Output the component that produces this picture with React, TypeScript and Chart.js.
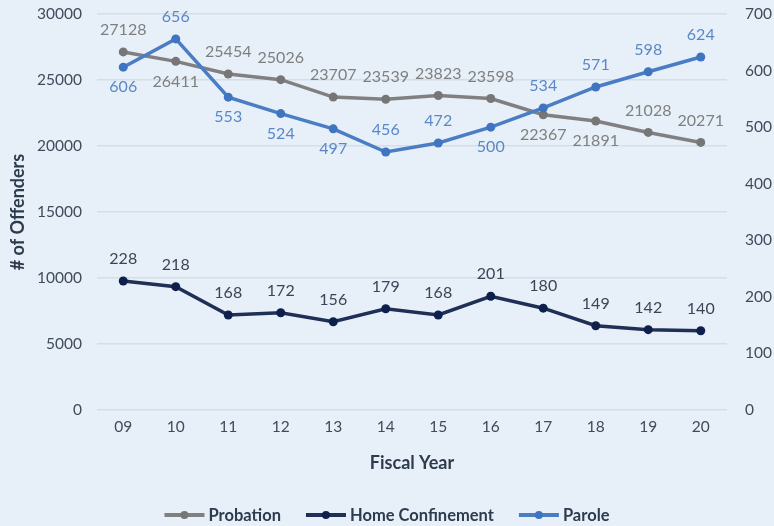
import React, { useEffect, useRef } from "react";
import { Chart, registerables } from "chart.js";

Chart.register(...registerables);

const fiscalYears = ["09", "10", "11", "12", "13", "14", "15", "16", "17", "18", "19", "20"];
const probation = [27128, 26411, 25454, 25026, 23707, 23539, 23823, 23598, 22367, 21891, 21028, 20271];
const homeConfinement = [228, 218, 168, 172, 156, 179, 168, 201, 180, 149, 142, 140];
const parole = [606, 656, 553, 524, 497, 456, 472, 500, 534, 571, 598, 624];

// label placement style (1 = above point, -1 = below point)
const probationLabelSide = [1, -1, 1, 1, 1, 1, 1, 1, -1, -1, 1, 1];
const homeLabelSide = [1, 1, 1, 1, 1, 1, 1, 1, 1, 1, 1, 1];
const paroleLabelSide = [-1, 1, -1, -1, -1, 1, 1, -1, 1, 1, 1, 1];

const FONT = "Lato, 'Open Sans', sans-serif";
const GRAY = "#808080";
const NAVY = "#1F2F55";
const BLUE = "#4A7DC4";

const dataLabelPlugin = {
  id: "dataLabels",
  afterDatasetsDraw(chart: any) {
    const ctx = chart.ctx;
    ctx.save();
    ctx.font = `16px ${FONT}`;
    ctx.textAlign = "center";
    ctx.textBaseline = "middle";
    chart.data.datasets.forEach((ds: any, i: number) => {
      const meta = chart.getDatasetMeta(i);
      meta.data.forEach((pt: any, j: number) => {
        const side = ds.labelSide[j];
        const dy = side > 0 ? -22 : 20;
        ctx.fillStyle = ds.labelColor;
        ctx.fillText(String(ds.data[j]), pt.x, pt.y + dy);
      });
    });
    ctx.restore();
  },
};

const legendPlugin = {
  id: "customLegend",
  afterDraw(chart: any) {
    const ctx = chart.ctx;
    ctx.save();
    ctx.font = `bold 16.5px ${FONT}`;
    ctx.textBaseline = "middle";
    ctx.textAlign = "left";
    const lineW = 40;
    const gapText = 4;
    const gapItem = 25;
    const items = chart.data.datasets.map((ds: any) => ({
      text: ds.label,
      color: ds.borderColor,
      point: ds.pointBackgroundColor,
      w: lineW + gapText + ctx.measureText(ds.label).width,
    }));
    const total = items.reduce((s: number, it: any) => s + it.w, 0) + gapItem * (items.length - 1);
    let x = chart.width / 2 - total / 2;
    const y = 515;
    items.forEach((it: any) => {
      ctx.strokeStyle = it.color;
      ctx.lineWidth = 4;
      ctx.beginPath();
      ctx.moveTo(x, y);
      ctx.lineTo(x + lineW, y);
      ctx.stroke();
      ctx.fillStyle = it.point;
      ctx.beginPath();
      ctx.arc(x + lineW / 2, y, 4, 0, Math.PI * 2);
      ctx.fill();
      ctx.fillStyle = "#2E3A4E";
      ctx.fillText(it.text, x + lineW + gapText, y + 1);
      x += it.w + gapItem;
    });
    ctx.restore();
  },
};

export default function App() {
  const canvasRef = useRef<HTMLCanvasElement | null>(null);

  useEffect(() => {
    if (!canvasRef.current) return;
    const chart = new Chart(canvasRef.current, {
      type: "line",
      data: {
        labels: fiscalYears,
        datasets: [
          {
            label: "Probation",
            data: probation,
            yAxisID: "y",
            borderColor: GRAY,
            backgroundColor: GRAY,
            pointBackgroundColor: "#767676",
            pointBorderColor: "#767676",
            borderWidth: 3.5,
            pointRadius: 4.5,
            pointBorderWidth: 0,
            order: 1,
            labelSide: probationLabelSide,
            labelColor: "#7F7F7F",
          } as any,
          {
            label: "Home Confinement",
            data: homeConfinement,
            yAxisID: "y1",
            borderColor: NAVY,
            backgroundColor: NAVY,
            pointBackgroundColor: "#0E1F4C",
            pointBorderColor: "#0E1F4C",
            borderWidth: 3.5,
            pointRadius: 4.5,
            pointBorderWidth: 0,
            order: 2,
            labelSide: homeLabelSide,
            labelColor: "#3A4556",
          } as any,
          {
            label: "Parole",
            data: parole,
            yAxisID: "y1",
            borderColor: BLUE,
            backgroundColor: BLUE,
            pointBackgroundColor: "#3F74C0",
            pointBorderColor: "#3F74C0",
            borderWidth: 3.5,
            pointRadius: 4.5,
            pointBorderWidth: 0,
            order: 0,
            labelSide: paroleLabelSide,
            labelColor: "#5A88C6",
          } as any,
        ],
      },
      options: {
        responsive: false,
        animation: false,
        layout: { padding: { top: 14, left: 0, right: 0, bottom: 46 } },
        plugins: {
          legend: { display: false },
          tooltip: { enabled: false },
        },
        scales: {
          x: {
            offset: true,
            grid: { display: false, drawTicks: false },
            border: { display: false },
            ticks: { color: "#404B5C", font: { family: FONT, size: 15.5 }, padding: 8 },
            title: {
              display: true,
              text: "Fiscal Year",
              color: "#2E3A4E",
              font: { family: FONT, size: 18, weight: "bold" },
              padding: { top: 0, bottom: 6 },
            },
            afterFit: (scale: any) => {
              scale.height = 70;
            },
          },
          y: {
            position: "left",
            min: 0,
            max: 30000,
            ticks: {
              stepSize: 5000,
              color: "#404B5C",
              font: { family: FONT, size: 15.5 },
              padding: 0,
              callback: (v: any) => String(v),
            },
            grid: {
              color: "#D5DDE5",
              lineWidth: 1.5,
              drawTicks: true,
              tickLength: 15,
              tickColor: "rgba(0,0,0,0)",
            },
            border: { display: false },
            title: {
              display: true,
              text: "# of Offenders",
              color: "#2E3A4E",
              font: { family: FONT, size: 18, weight: "bold" },
              padding: { top: 7, bottom: 0 },
            },
            afterFit: (scale: any) => {
              scale.width = 97;
            },
          },
          y1: {
            position: "right",
            min: 0,
            max: 700,
            ticks: {
              stepSize: 100,
              color: "#404B5C",
              font: { family: FONT, size: 15.5 },
              padding: 0,
            },
            grid: {
              display: true,
              drawOnChartArea: false,
              drawTicks: true,
              tickLength: 18,
              tickColor: "rgba(0,0,0,0)",
            },
            border: { display: false },
            afterFit: (scale: any) => {
              scale.width = 47;
            },
          },
        },
      } as any,
      plugins: [dataLabelPlugin, legendPlugin],
    });
    return () => chart.destroy();
  }, []);

  return (
    <div
      style={{
        position: "fixed",
        left: 0,
        top: 0,
        width: 774,
        height: 526,
        background: "#E7F0F9",
      }}
    >
      <canvas ref={canvasRef} width={774} height={526} style={{ display: "block" }} />
    </div>
  );
}
